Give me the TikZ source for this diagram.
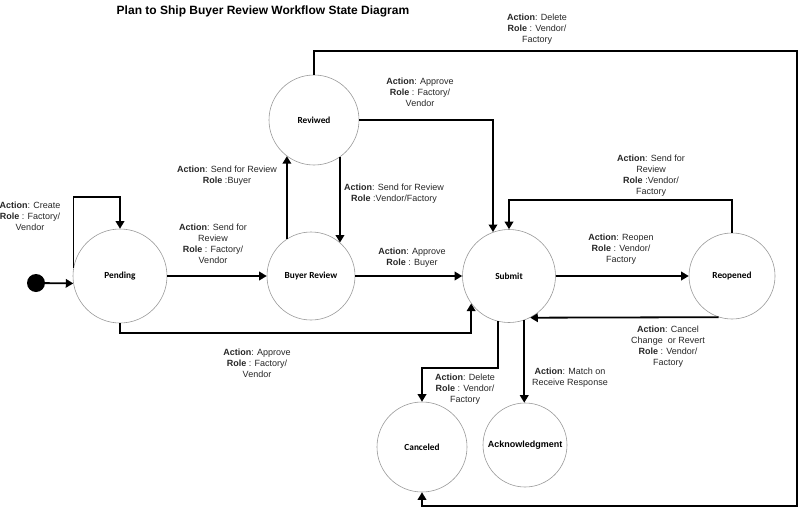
\documentclass[tikz,border=0pt]{standalone}
\usepackage{fontspec}
\setmainfont{Liberation Sans}
\newfontfamily\nodefont{Carlito}
\usetikzlibrary{arrows.meta}
\tikzset{
  state/.style={circle, draw=gray!80, line width=0.6pt, inner sep=0pt, font=\nodefont\bfseries\fontsize{9.3}{11}\selectfont},
  conn/.style={line width=1.8pt, -{Triangle[length=7.5pt,width=8.5pt]}},
  lbl/.style={align=center, inner sep=0pt, font=\fontsize{9}{11}\selectfont, text=black!85}
}
\begin{document}
\begin{tikzpicture}[x=1pt,y=-1pt]
\useasboundingbox (0,0) rectangle (799,508);
% title
\node[font=\bfseries\fontsize{12}{14}\selectfont] (title) at (263,11) {Plan to Ship Buyer Review Workflow State Diagram};
% states
\node[circle, fill=black, minimum size=18pt, inner sep=0pt] (start) at (36,283) {};
\node[state, minimum size=94pt] (pend) at (120,276) {Pending};
\node[state, minimum size=88pt] (br) at (311,276) {Buyer Review};
\node[state, minimum size=90pt] (rev) at (314,120) {Reviwed};
\node[state, minimum size=93pt] (sub) at (509,276) {Submit};
\node[state, minimum size=86pt] (reo) at (732,276) {Reopened};
\node[state, minimum size=90pt] (can) at (422,447) {Canceled};
\node[state, minimum size=84pt, font=\bfseries\fontsize{9}{11}\selectfont] (ack) at (525,445) {Acknowledgment};
% helper coordinates
\coordinate (loopY) at (0,197);
\coordinate (lowA) at (0,333);
\coordinate (topB) at (0,200);
\coordinate (midC) at (0,368);
\coordinate (tr) at (797,51);
\coordinate (bt) at (797,506);
% connectors
\draw[conn] (start) -- (pend.189);
\draw[conn] (pend.170) -- (pend.170 |- loopY) -| (pend.north);
\draw[conn] (pend.east) -- (br.west);
\draw[conn] (br.123) -- (br.123 |- rev.233);
\draw[conn] (rev.-55) -- (rev.-55 |- br.49);
\draw[conn] (br.east) -- (sub.west);
\draw[conn] (rev.east) -| (sub.110);
\draw[conn] (pend.south) -- (pend.south |- lowA) -| (sub.216);
\draw[conn] (sub.east) -- (reo.west);
\draw[conn] (reo.north) -- (reo.north |- topB) -| (sub.north);
\draw[conn] (reo.252) -- (sub.297);
\draw[conn] (sub.256) -- (sub.256 |- midC) -| (can.north);
\draw[conn] (sub.289) -- (sub.289 |- ack.north);
\draw[conn] (rev.north) |- (tr) -- (bt) -| (can.south);
% labels
\node[lbl] (l1) at (537,29) {\textbf{Action}: Delete\\\textbf{Role} : Vendor/\\Factory};
\node[lbl] (l2) at (420,92) {\textbf{Action}: Approve\\\textbf{Role} : Factory/\\Vendor};
\node[lbl] (l3) at (30,216) {\textbf{Action}: Create\\\textbf{Role} : Factory/\\Vendor};
\node[lbl] (l4) at (227,175.5) {\textbf{Action}: Send for Review\\\textbf{Role} :Buyer};
\node[lbl] (l5) at (213,244) {\textbf{Action}: Send for\\Review\\\textbf{Role} : Factory/\\Vendor};
\node[lbl] (l6) at (394,193.5) {\textbf{Action}: Send for Review\\\textbf{Role} :Vendor/Factory};
\node[lbl] (l7) at (412,257.5) {\textbf{Action}: Approve\\\textbf{Role} : Buyer};
\node[lbl] (l8) at (651,175.5) {\textbf{Action}: Send for\\Review\\\textbf{Role} :Vendor/\\Factory};
\node[lbl] (l9) at (621,249) {\textbf{Action}: Reopen\\\textbf{Role} : Vendor/\\Factory};
\node[lbl] (l10) at (668,346.5) {\textbf{Action}: Cancel\\Change~ or Revert\\\textbf{Role} : Vendor/\\Factory};
\node[lbl] (l11) at (257,363) {\textbf{Action}: Approve\\\textbf{Role} : Factory/\\Vendor};
\node[lbl] (l12) at (465,389) {\textbf{Action}: Delete\\\textbf{Role} : Vendor/\\Factory};
\node[lbl] (l13) at (570,377.5) {\textbf{Action}: Match on\\Receive Response};
\end{tikzpicture}
\end{document}
